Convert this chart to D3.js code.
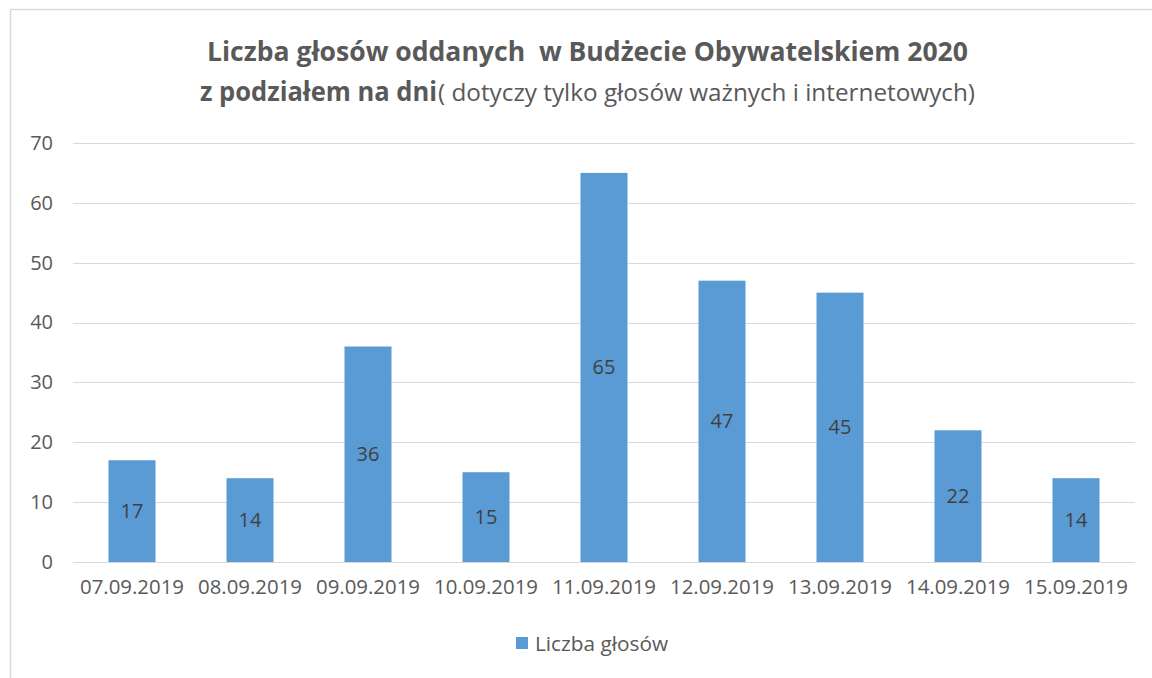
<!DOCTYPE html>
<html>
<head>
<meta charset="utf-8">
<script src="https://cdn.jsdelivr.net/npm/d3@7"></script>
<style>
  body { margin: 0; background: #fff; }
  text { font-family: "Open Sans", sans-serif; }
</style>
</head>
<body>
<div class="wykres"></div>
<script>
var dni = ['07.09.2019', '08.09.2019', '09.09.2019', '10.09.2019', '11.09.2019',
  '12.09.2019', '13.09.2019', '14.09.2019', '15.09.2019'];
var glosy = [17, 14, 36, 15, 65, 47, 45, 22, 14];
var yTicks = [0, 10, 20, 30, 40, 50, 60, 70];
var nazwaSerii = 'Liczba głosów';

var svg = d3
  .select('.wykres')
  .append('svg')
  .attr('width', 1152)
  .attr('height', 678);

// ramka wykresu
svg.append('rect')
  .attr('x', 10.5)
  .attr('y', 9.5)
  .attr('width', 1160)
  .attr('height', 700)
  .attr('fill', '#fff')
  .attr('stroke', '#d9d9d9')
  .attr('stroke-width', 1.5);

const xScale = d3.scaleBand()
  .domain(dni)
  .range([73, 1135])
  .paddingInner(0.6)
  .paddingOuter(0.3);

const yScale = d3.scaleLinear()
  .domain([0, 70])
  .range([562, 143]);

// linie siatki
svg.append('g')
  .selectAll('line')
  .data(yTicks)
  .enter()
  .append('line')
  .attr('x1', 73)
  .attr('x2', 1135)
  .attr('y1', d => Math.round(yScale(d)) + 0.5)
  .attr('y2', d => Math.round(yScale(d)) + 0.5)
  .attr('stroke', '#d9d9d9')
  .attr('stroke-width', 1);

const yAxis = d3.axisLeft(yScale).tickValues(yTicks).tickSize(0).tickPadding(0);
svg.append('g')
  .attr('id', 'y-axis')
  .attr('transform', 'translate(53, 0)')
  .call(yAxis)
  .call(g => g.select('.domain').remove())
  .selectAll('text')
  .attr('fill', '#595959')
  .style('font-size', '20px')
  .style('font-family', '"Open Sans", sans-serif');

const xAxis = d3.axisBottom(xScale).tickSize(0).tickPadding(0);
svg.append('g')
  .attr('id', 'x-axis')
  .attr('transform', 'translate(0, 580)')
  .call(xAxis)
  .call(g => g.select('.domain').remove())
  .selectAll('text')
  .attr('fill', '#595959')
  .style('font-size', '20px')
  .style('font-family', '"Open Sans", sans-serif')
  .attr('textLength', 104)
  .attr('lengthAdjust', 'spacingAndGlyphs');

// slupki
svg.append('g')
  .selectAll('rect')
  .data(glosy)
  .enter()
  .append('rect')
  .attr('x', (d, i) => xScale(dni[i]) + xScale.bandwidth() / 2 - 23.5)
  .attr('y', d => yScale(d))
  .attr('width', 47)
  .attr('height', d => yScale(0) - yScale(d))
  .attr('fill', '#5b9bd5');

svg.append('g')
  .selectAll('text')
  .data(glosy)
  .enter()
  .append('text')
  .attr('x', (d, i) => xScale(dni[i]) + xScale.bandwidth() / 2)
  .attr('y', d => (yScale(d) + yScale(0)) / 2)
  .attr('dy', '0.35em')
  .attr('text-anchor', 'middle')
  .attr('fill', '#404040')
  .style('font-size', '20px')
  .text(d => d);

// tytul
svg.append('text')
  .attr('x', 207)
  .attr('y', 61)
  .attr('fill', '#595959')
  .style('font-size', '26px')
  .style('font-weight', 'bold')
  .style('white-space', 'pre')
  .attr('textLength', 761)
  .attr('lengthAdjust', 'spacingAndGlyphs')
  .text('Liczba głosów oddanych  w Budżecie Obywatelskiem 2020');

svg.append('text')
  .attr('x', 200)
  .attr('y', 101)
  .attr('fill', '#595959')
  .style('font-size', '26px')
  .style('font-weight', 'bold')
  .attr('textLength', 237)
  .attr('lengthAdjust', 'spacingAndGlyphs')
  .text('z podziałem na dni');

svg.append('text')
  .attr('x', 438)
  .attr('y', 101)
  .attr('fill', '#595959')
  .style('font-size', '23px')
  .attr('textLength', 537)
  .attr('lengthAdjust', 'spacingAndGlyphs')
  .text('( dotyczy tylko głosów ważnych i internetowych)');

// legenda
var legenda = svg.append('g').attr('transform', 'translate(516, 637)');
legenda.append('rect')
  .attr('width', 12)
  .attr('height', 12)
  .attr('fill', '#5b9bd5');
legenda.append('text')
  .attr('x', 19)
  .attr('y', 14)
  .attr('fill', '#595959')
  .style('font-size', '20px')
  .attr('textLength', 133)
  .attr('lengthAdjust', 'spacingAndGlyphs')
  .text(nazwaSerii);
</script>
</body>
</html>
